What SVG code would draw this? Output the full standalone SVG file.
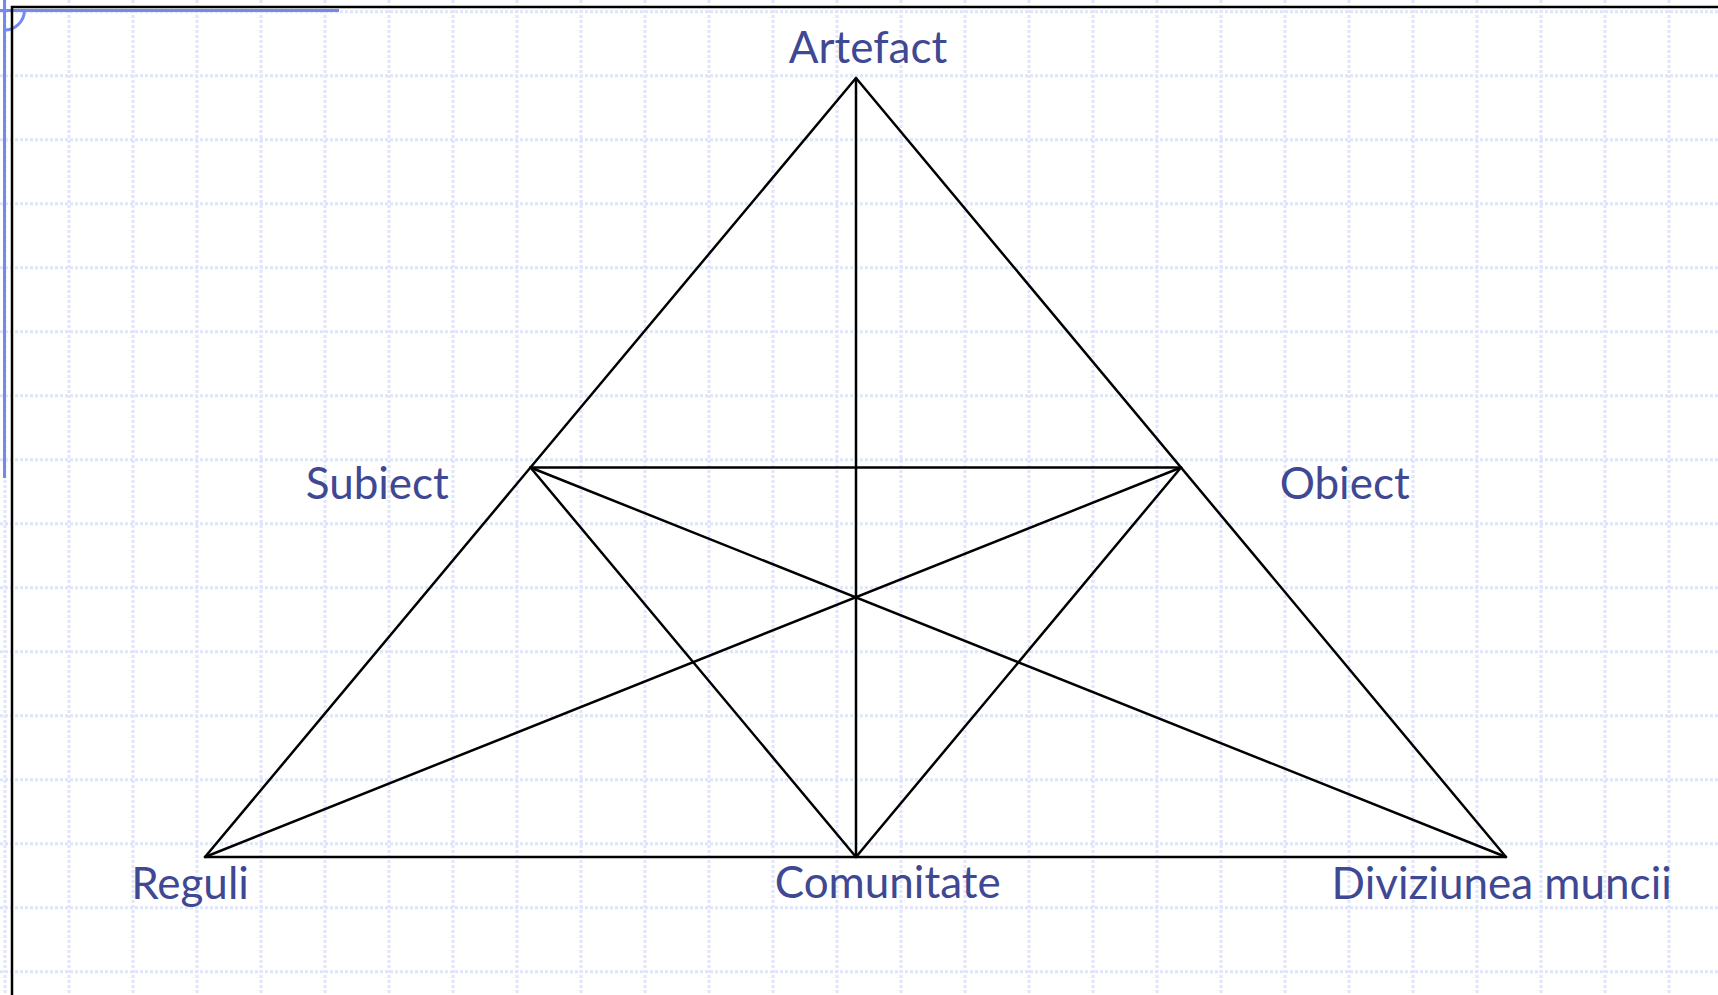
<svg xmlns="http://www.w3.org/2000/svg" width="1718" height="995" viewBox="0 0 1718 995">
<style>
.grid{fill:none;stroke:#dfe6fc;stroke-width:3;stroke-dasharray:3 2}
.guide{fill:none;stroke:#7389f0;stroke-width:3}
.frame{fill:none;stroke:#000;stroke-width:2.5}
.edge{fill:none;stroke:#000;stroke-width:2.5;stroke-linecap:round;stroke-linejoin:round}
.lbl{font-family:Lato,"Liberation Sans",sans-serif;font-size:44px;fill:#3f4893;text-anchor:middle}
</style>
<rect width="1718" height="995" fill="#fff"/>
<g id="grid">
<path class="grid" d="M5,0V995M69,0V995M133,0V995M197,0V995M261,0V995M325,0V995M389,0V995M453,0V995M517,0V995M581,0V995M645,0V995M709,0V995M773,0V995M837,0V995M901,0V995M965,0V995M1029,0V995M1093,0V995M1157,0V995M1221,0V995M1285,0V995M1349,0V995M1413,0V995M1477,0V995M1541,0V995M1605,0V995M1669,0V995"/>
<path class="grid" d="M0,11.7H1718M0,75.7H1718M0,139.7H1718M0,203.7H1718M0,267.7H1718M0,331.7H1718M0,395.7H1718M0,459.7H1718M0,523.7H1718M0,587.7H1718M0,651.7H1718M0,715.7H1718M0,779.7H1718M0,843.7H1718M0,907.7H1718M0,971.7H1718"/>
</g>
<g id="guides">
<path class="guide" d="M4.5,0V478M0,10.5H339"/>
<path class="guide" d="M4.5,30A20,20 0 0 0 24.5,10.5"/>
</g>
<g id="frame">
<path class="frame" d="M12,995V7H1718"/>
</g>
<g id="connectors">
<path class="edge" d="M856,78L205,857L1506,857Z"/>
<path class="edge" d="M856,78V857"/>
<path class="edge" d="M530.5,467.5H1181"/>
<path class="edge" d="M530.5,467.5L856,857L1181,467.5"/>
<path class="edge" d="M530.5,467.5L1506,857"/>
<path class="edge" d="M1181,467.5L205,857"/>
</g>
<g id="node-artefact"><text class="lbl" x="868" y="62.5">Artefact</text></g>
<g id="node-subiect"><text class="lbl" x="377.3" y="498.5">Subiect</text></g>
<g id="node-obiect"><text class="lbl" x="1344.7" y="498.5">Obiect</text></g>
<g id="node-reguli"><text class="lbl" x="190" y="898.5">Reguli</text></g>
<g id="node-comunitate"><text class="lbl" x="887.7" y="898">Comunitate</text></g>
<g id="node-diviziunea"><text class="lbl" x="1501.7" y="898.5">Diviziunea muncii</text></g>
</svg>
